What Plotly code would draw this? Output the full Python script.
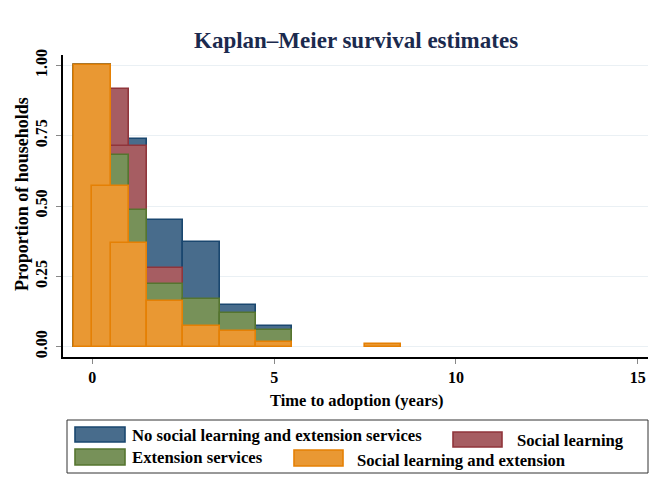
import plotly.graph_objects as go

# ---- data ----
groups = ["No social learning and extension services", "Social learning",
          "Extension services", "Social learning and extension"]

x_none = [0, 1, 2, 3, 4, 5]
y_none = [1.00, 0.737, 0.452, 0.372, 0.149, 0.075]

x_social = [0, 0.5, 1, 2]
y_social = [1.00, 0.915, 0.712, 0.280]

x_ext = [0, 0.5, 1, 2, 3, 4, 5]
y_ext = [1.00, 0.682, 0.485, 0.222, 0.171, 0.120, 0.058]

x_both = [0, 0.5, 1, 2, 3, 4, 5, 8]
y_both = [1.00, 0.570, 0.369, 0.162, 0.072, 0.056, 0.015, 0.008]

x_ticks = [0, 5, 10, 15]
y_ticks = [0, 0.25, 0.5, 0.75, 1.0]
y_ticklabels = ["0.00", "0.25", "0.50", "0.75", "1.00"]

fills = ["rgb(72,108,140)", "rgb(166,93,98)", "rgb(119,145,89)", "rgb(233,152,51)"]
lines = ["rgb(26,71,111)", "rgb(144,53,59)", "rgb(85,117,47)", "rgb(229,128,4)"]

series = [(x_none, y_none), (x_social, y_social), (x_ext, y_ext), (x_both, y_both)]

FONT = "Liberation Serif"
W, H = 658, 485
L, R, T, B = 63, 10, 55, 128

fig = go.Figure()
for (xs, ys), name, fc, lc in zip(series, groups, fills, lines):
    fig.add_trace(go.Bar(
        x=xs, y=ys, width=1, name=name, showlegend=False, hoverinfo="skip",
        marker=dict(color=fc, line=dict(color=lc, width=1.6)),
    ))

# ---- pixel -> paper helpers ----
pw = W - L - R
ph = H - T - B


def px(xp):
    return (xp - L) / pw


def py(yp):
    return (H - B - yp) / ph


bold = dict(family=FONT, color="black", weight="bold")

shapes = [dict(type="rect", xref="paper", yref="paper",
               x0=px(67), x1=px(648), y0=py(420), y1=py(473),
               line=dict(color="#333333", width=1), fillcolor="white", layer="below")]
swatches = [(75, 125, 427, 442), (453, 502, 432, 447), (75, 125, 449, 465), (294, 343, 450, 466)]
labels_pos = [(130, 435), (515, 440), (130, 457), (355, 460)]
annotations = []
for (x0, x1, y0, y1), (tx, ty), name, fc, lc in zip(swatches, labels_pos, groups, fills, lines):
    shapes.append(dict(type="rect", xref="paper", yref="paper",
                       x0=px(x0), x1=px(x1), y0=py(y1), y1=py(y0),
                       fillcolor=fc, line=dict(color=lc, width=1.6)))
    annotations.append(dict(xref="paper", yref="paper", x=px(tx), y=py(ty),
                            xanchor="left", yanchor="middle", showarrow=False,
                            text=name, font=dict(size=16.7, **bold)))

# axis titles
annotations.append(dict(xref="paper", yref="paper", x=px(356), y=py(400),
                        xanchor="center", yanchor="middle", showarrow=False,
                        text="Time to adoption (years)", font=dict(size=16.5, **bold)))
annotations.append(dict(xref="paper", yref="paper", x=px(22), y=py(194),
                        xanchor="center", yanchor="middle", showarrow=False, textangle=-90,
                        text="Proportion of households", font=dict(size=18, **bold)))
# title
annotations.append(dict(xref="paper", yref="paper", x=px(356), y=py(40),
                        xanchor="center", yanchor="middle", showarrow=False,
                        text="Kaplan–Meier survival estimates",
                        font=dict(family=FONT, size=23, color="#1b2a4e", weight="bold")))

fig.update_layout(
    width=W, height=H,
    margin=dict(l=L, r=R, t=T, b=B),
    paper_bgcolor="white", plot_bgcolor="white",
    barmode="overlay", bargap=0,
    font=dict(size=16, **bold),
    xaxis=dict(range=[-0.806, 15.28], tickvals=x_ticks, ticks="outside", ticklen=5,
               tickcolor="#888888", showline=True, linecolor="black", linewidth=1.5,
               showgrid=False, zeroline=False, automargin=False,
               tickfont=dict(size=16, **bold)),
    yaxis=dict(range=[-0.037, 1.037], tickvals=y_ticks, ticktext=y_ticklabels,
               ticks="outside", ticklen=5, tickcolor="#888888", tickangle=-90,
               showline=True, linecolor="black", linewidth=1.5,
               showgrid=True, gridcolor="#eaf0f4", gridwidth=1.2, zeroline=False,
               ticklabelstandoff=3, automargin=False,
               tickfont=dict(size=16, **bold)),
    shapes=shapes,
    annotations=annotations,
)

fig.write_html("out.html", config={"displayModeBar": False},
               post_script="document.body.style.margin='0';")
